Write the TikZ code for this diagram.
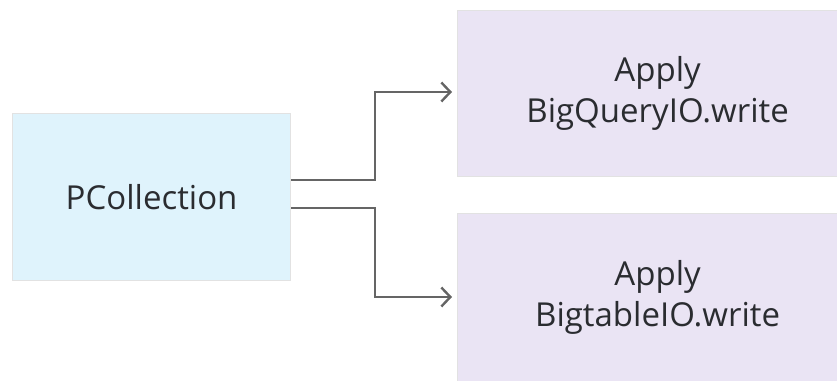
\documentclass[tikz,border=0pt]{standalone}
\usepackage{fontspec}
\setmainfont{Open Sans}
\usetikzlibrary{arrows.meta}
\definecolor{txt}{HTML}{2A2C30}
\definecolor{bluefill}{HTML}{DFF3FC}
\definecolor{purplefill}{HTML}{EAE4F4}
\definecolor{edgegray}{HTML}{E2E2E2}
\definecolor{linegray}{HTML}{656565}
\begin{document}
\begin{tikzpicture}[x=1pt,y=-1pt,
  boxstyle/.style={draw=edgegray,line width=1.2pt,anchor=north west,inner sep=0pt,
    font=\fontsize{33}{41}\selectfont,text=txt,align=center},
  conn/.style={draw=linegray,line width=2.6pt,-{Straight Barb[length=9pt,width=19pt,line width=2.4pt]}}]
\useasboundingbox (0,0) rectangle (837,380);
\clip (0,0) rectangle (837,380);
\node[boxstyle,fill=bluefill,minimum width=278pt,minimum height=167pt] (pc) at (12,113) {PCollection};
\node[boxstyle,fill=purplefill,minimum width=400pt,minimum height=166pt] (bq) at (457,10) {Apply\\BigQueryIO.write};
\node[boxstyle,fill=purplefill,minimum width=400pt,minimum height=168pt] (bt) at (457,213) {Apply\\BigtableIO.write};
\coordinate (bqin) at (452,92);
\coordinate (btin) at (452,297);
\draw[conn] ([yshift=17pt]pc.east) -| (375,92) -- (bqin);
\draw[conn] ([yshift=-11pt]pc.east) -| (375,297) -- (btin);
\end{tikzpicture}
\end{document}
